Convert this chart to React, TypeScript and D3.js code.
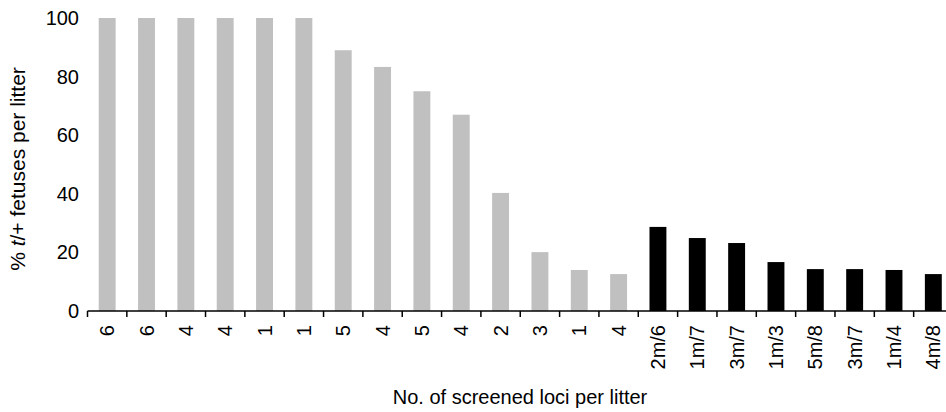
import React from "react";
import * as d3 from "d3";

const categories = ["6", "6", "4", "4", "1", "1", "5", "4", "5", "4", "2", "3", "1", "4", "2m/6", "1m/7", "3m/7", "1m/3", "5m/8", "3m/7", "1m/4", "4m/8"];
const values = [100, 100, 100, 100, 100, 100, 89, 83.3, 75, 67, 40.3, 20.1, 14, 12.6, 28.7, 24.9, 23.2, 16.7, 14.3, 14.3, 14, 12.6];
const groups = ["wt", "wt", "wt", "wt", "wt", "wt", "wt", "wt", "wt", "wt", "wt", "wt", "wt", "wt", "m", "m", "m", "m", "m", "m", "m", "m"];
const yTicks = [0, 20, 40, 60, 80, 100];

const W = 946;
const H = 412;
const FONT = "'Liberation Sans', Arial, Helvetica, sans-serif";

export default function App() {
  const idx = categories.map((_, i) => i);
  const x = d3.scaleBand<number>().domain(idx).range([87.5, 953]).padding(0);
  const y = d3.scaleLinear().domain([0, 100]).range([311, 18]);
  const bw = x.bandwidth() * 0.43;
  const boundaries = idx.map((i) => x(i) as number).concat([x.range()[1]]);

  return (
    <svg width={W} height={H} style={{ position: "absolute", left: 0, top: 0, background: "#fff" }} fontFamily={FONT}>
      <rect width={W} height={H} fill="#fff" />
      {values.map((v, i) => (
        <rect
          key={i}
          x={(x(i) as number) + x.bandwidth() / 2 - bw / 2}
          y={y(v)}
          width={bw}
          height={y(0) - y(v)}
          fill={groups[i] === "m" ? "#000" : "#c0c0c0"}
        />
      ))}
      <line x1={x.range()[0]} x2={W} y1={y(0)} y2={y(0)} stroke="#000" strokeWidth={1.5} />
      {boundaries.map((b, i) => (
        <line key={i} x1={b} x2={b} y1={y(0)} y2={y(0) + 6} stroke="#000" strokeWidth={1.5} />
      ))}
      {yTicks.map((t) => (
        <text key={t} x={79} y={y(t)} dy="0.35em" textAnchor="end" fontSize={20} fill="#000">
          {t}
        </text>
      ))}
      {categories.map((c, i) => {
        const cx = (x(i) as number) + x.bandwidth() / 2;
        return (
          <text
            key={i}
            transform={`translate(${cx},${y(0) + 14}) rotate(-90)`}
            dy="0.35em"
            textAnchor="end"
            fontSize={20}
            fill="#000"
          >
            {c}
          </text>
        );
      })}
      <text x={520} y={404} textAnchor="middle" fontSize={20} fill="#000">
        No. of screened loci per litter
      </text>
      <text transform={`translate(25,169) rotate(-90)`} textAnchor="middle" fontSize={21} fill="#000">
        {"% "}
        <tspan fontStyle="italic">t</tspan>
        {"/+ fetuses per litter"}
      </text>
    </svg>
  );
}
